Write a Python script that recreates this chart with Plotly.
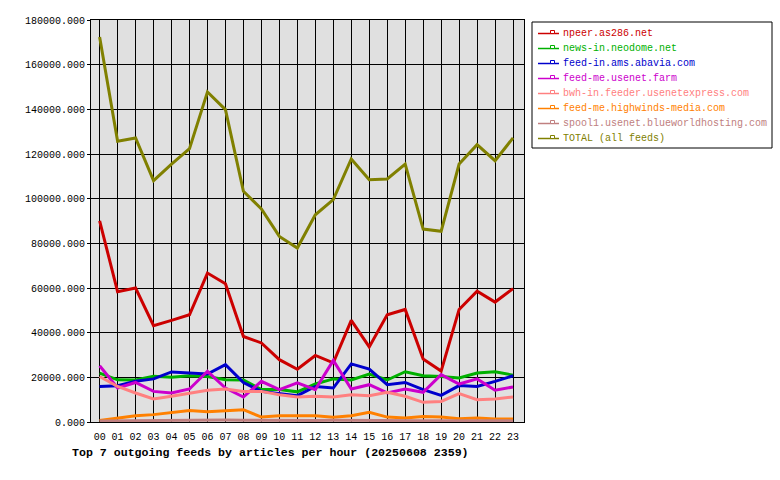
import plotly.graph_objects as go

hours = ["00","01","02","03","04","05","06","07","08","09","10","11",
         "12","13","14","15","16","17","18","19","20","21","22","23"]

names = ["npeer.as286.net", "news-in.neodome.net", "feed-in.ams.abavia.com",
         "feed-me.usenet.farm", "bwh-in.feeder.usenetexpress.com",
         "feed-me.highwinds-media.com", "spool1.usenet.blueworldhosting.com",
         "TOTAL (all feeds)"]
colors = ["#cc0000", "#00b000", "#0000cc", "#cc00cc", "#ff8080",
          "#ff8000", "#c08080", "#808000"]

npeer = [90100, 58300, 60000, 43100, 45500, 48000, 66700, 61900, 38300, 35400, 27900, 23600,
         29800, 26500, 45500, 33600, 48000, 50400, 28200, 22800, 50400, 58600, 53700, 59700]
neodome = [21900, 18900, 18800, 20500, 20000, 20700, 20400, 18900, 18800, 14500, 14500, 13500,
           17000, 19300, 18800, 21500, 18800, 22500, 20700, 20400, 19700, 21900, 22500, 21000]
abavia = [15900, 16200, 18200, 19300, 22400, 21900, 21500, 25700, 17700, 13700, 12700, 11800,
          15900, 15200, 26000, 23700, 16700, 17700, 14500, 11900, 16300, 15900, 18200, 20700]
usenetfarm = [25200, 15200, 17700, 13700, 13000, 14800, 22700, 15200, 11200, 18200, 14500, 17500,
              14500, 27600, 14800, 16700, 13000, 14800, 13300, 21200, 17000, 19300, 14200, 15700]
usenetexpress = [20400, 15900, 13000, 10300, 11500, 13000, 14200, 14800, 13700, 13700, 12200, 11200,
                 11500, 11200, 12200, 11800, 13300, 11500, 8800, 9200, 12700, 10000, 10300, 11200]
highwinds = [700, 1800, 2800, 3300, 4300, 5200, 4600, 5200, 5500, 2200, 2800, 2800,
             2800, 2100, 2800, 4300, 2200, 1800, 2500, 2200, 1500, 1800, 1300, 1300]
blueworld = [500, 600, 700, 700, 800, 900, 1000, 900, 800, 700, 700, 700,
             700, 800, 700, 700, 800, 700, 600, 600, 600, 500, 500, 500]
total = [172400, 125700, 127200, 108100, 115500, 122400, 147800, 139900, 103300, 95400, 83100, 77900,
         92800, 99600, 117800, 108500, 108800, 115500, 86400, 85400, 115500, 124200, 117000, 127200]

series = [npeer, neodome, abavia, usenetfarm, usenetexpress, highwinds, blueworld, total]

FONT = "Liberation Mono, DejaVu Sans Mono, monospace"
W, H = 780, 480
ML, MR, MT, MB = 91, 256, 20, 58
PW, PH = W - ML - MR, H - MT - MB


def px(x):
    return (x - ML) / PW


def py(y):
    return (H - MB - y) / PH


xs = list(range(len(hours)))

fig = go.Figure()
for name, col, vals in zip(names, colors, series):
    fig.add_trace(go.Scatter(x=xs, y=vals, mode="lines", name=name,
                             line=dict(color=col, width=3), showlegend=False,
                             hoverinfo="skip"))

# legend drawn as box + sample lines + coloured text
shapes = [dict(type="rect", xref="paper", yref="paper",
               x0=px(532), x1=px(772), y0=py(148), y1=py(22),
               line=dict(color="black", width=1), fillcolor="white", layer="above")]
annotations = []
for i, (name, col) in enumerate(zip(names, colors)):
    yc = 33.5 + 15 * i
    shapes.append(dict(type="line", xref="paper", yref="paper",
                       x0=px(538), x1=px(559), y0=py(yc), y1=py(yc),
                       line=dict(color=col, width=1.5), layer="above"))
    shapes.append(dict(type="rect", xref="paper", yref="paper",
                       x0=px(550.5), x1=px(554.5), y0=py(yc), y1=py(yc - 3),
                       line=dict(color=col, width=1), fillcolor="white", layer="above"))
    annotations.append(dict(text=name, xref="paper", yref="paper",
                            x=px(561), y=py(yc), xanchor="left", yanchor="middle",
                            showarrow=False,
                            font=dict(family=FONT, size=10, color=col)))

fig.update_layout(
    width=W, height=H,
    margin=dict(l=ML, r=MR, t=MT, b=MB, pad=0),
    paper_bgcolor="white", plot_bgcolor="#e0e0e0",
    font=dict(family=FONT, size=10, color="black"),
    showlegend=False,
    shapes=shapes, annotations=annotations,
    title=dict(text="<b>Top 7 outgoing feeds by articles per hour (20250608 2359)</b>",
               x=72/780, xanchor="left", xref="container",
               y=1-452/480, yanchor="middle", yref="container",
               font=dict(family=FONT, size=11.6, color="black")),
)

fig.update_xaxes(range=[-0.48, 23.61], tickvals=xs, ticktext=hours,
                 showgrid=True, gridcolor="black", gridwidth=1,
                 showline=True, linecolor="black", linewidth=1, mirror=True,
                 ticks="outside", ticklen=5, tickcolor="rgba(0,0,0,0)", zeroline=False,
                 tickfont=dict(family=FONT, size=10, color="black"))
fig.update_yaxes(range=[0, 180000], dtick=20000, tick0=0, tickformat=".3f",
                 showgrid=True, gridcolor="black", gridwidth=1,
                 showline=True, linecolor="black", linewidth=1, mirror=True,
                 ticks="outside", ticklen=3, tickcolor="black", zeroline=False,
                 tickfont=dict(family=FONT, size=10, color="black"))

fig.write_html("out.html")
